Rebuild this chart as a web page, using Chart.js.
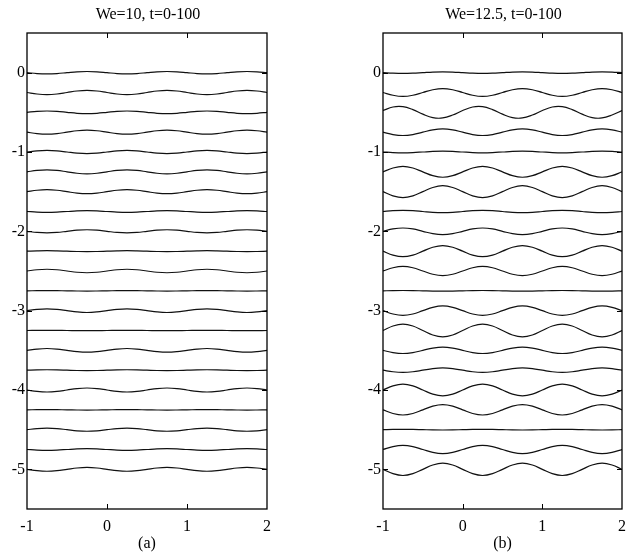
<!DOCTYPE html>
<html><head><meta charset="utf-8">
<script src="https://cdn.jsdelivr.net/npm/chart.js@4.4.1/dist/chart.umd.min.js"></script>
<style>
html,body{margin:0;padding:0;background:#fff;}
#wrap{position:relative;width:636px;height:554px;overflow:hidden;}
.panel{position:absolute;top:0;width:318px;height:554px;}
</style></head><body>
<div id="wrap">
<div class="panel" style="left:0"><canvas id="ca" width="318" height="554"></canvas></div>
<div class="panel" style="left:318px"><canvas id="cb" width="318" height="554"></canvas></div>
</div>
<script>
// ---- data ----
const titleA = "We=10, t=0-100";
const titleB = "We=12.5, t=0-100";
const labelA = "(a)";
const labelB = "(b)";
const xTicks = [-1, 0, 1, 2];
const yTicks = [-5, -4, -3, -2, -1, 0];
const xs = [-1,-0.875,-0.75,-0.625,-0.5,-0.375,-0.25,-0.125,0,0.125,0.25,0.375,0.5,0.625,0.75,0.875,1,1.125,1.25,1.375,1.5,1.625,1.75,1.875,2];
const offsets = [0,-0.25,-0.5,-0.75,-1,-1.25,-1.5,-1.75,-2,-2.25,-2.5,-2.75,-3,-3.25,-3.5,-3.75,-4,-4.25,-4.5,-4.75,-5];

// deviation of each interface profile from its offset, panel (a) We=10
const devA = [
[0,-0.011,-0.015,-0.011,0,0.011,0.015,0.011,0,-0.011,-0.015,-0.011,0,0.011,0.015,0.011,0,-0.011,-0.015,-0.011,0,0.011,0.015,0.011,0],
[0,-0.019,-0.027,-0.019,0,0.019,0.027,0.019,0,-0.019,-0.027,-0.019,0,0.019,0.027,0.019,0,-0.019,-0.027,-0.019,0,0.019,0.027,0.019,0],
[0,0.012,0.017,0.012,0,-0.012,-0.017,-0.012,0,0.012,0.017,0.012,0,-0.012,-0.017,-0.012,0,0.012,0.017,0.012,0,-0.012,-0.017,-0.012,0],
[0,-0.018,-0.025,-0.018,0,0.018,0.025,0.018,0,-0.018,-0.025,-0.018,0,0.018,0.025,0.018,0,-0.018,-0.025,-0.018,0,0.018,0.025,0.018,0],
[0,0.014,0.02,0.014,0,-0.014,-0.02,-0.014,0,0.014,0.02,0.014,0,-0.014,-0.02,-0.014,0,0.014,0.02,0.014,0,-0.014,-0.02,-0.014,0],
[0,0.018,0.025,0.018,0,-0.018,-0.025,-0.018,0,0.018,0.025,0.018,0,-0.018,-0.025,-0.018,0,0.018,0.025,0.018,0,-0.018,-0.025,-0.018,0],
[0,0.018,0.025,0.018,0,-0.018,-0.025,-0.018,0,0.018,0.025,0.018,0,-0.018,-0.025,-0.018,0,0.018,0.025,0.018,0,-0.018,-0.025,-0.018,0],
[0,-0.007,-0.01,-0.007,0,0.007,0.01,0.007,0,-0.007,-0.01,-0.007,0,0.007,0.01,0.007,0,-0.007,-0.01,-0.007,0,0.007,0.01,0.007,0],
[0,-0.014,-0.02,-0.014,0,0.014,0.02,0.014,0,-0.014,-0.02,-0.014,0,0.014,0.02,0.014,0,-0.014,-0.02,-0.014,0,0.014,0.02,0.014,0],
[0,0.004,0.006,0.004,0,-0.004,-0.006,-0.004,0,0.004,0.006,0.004,0,-0.004,-0.006,-0.004,0,0.004,0.006,0.004,0,-0.004,-0.006,-0.004,0],
[0,0.016,0.022,0.016,0,-0.016,-0.022,-0.016,0,0.016,0.022,0.016,0,-0.016,-0.022,-0.016,0,0.016,0.022,0.016,0,-0.016,-0.022,-0.016,0],
[0,0.002,0.003,0.002,0,-0.002,-0.003,-0.002,0,0.002,0.003,0.002,0,-0.002,-0.003,-0.002,0,0.002,0.003,0.002,0,-0.002,-0.003,-0.002,0],
[0,0.016,0.023,0.016,0,-0.016,-0.023,-0.016,0,0.016,0.023,0.016,0,-0.016,-0.023,-0.016,0,0.016,0.023,0.016,0,-0.016,-0.023,-0.016,0],
[0,0.001,0.002,0.001,0,-0.001,-0.002,-0.001,0,0.001,0.002,0.001,0,-0.001,-0.002,-0.001,0,0.001,0.002,0.001,0,-0.001,-0.002,-0.001,0],
[0,0.016,0.023,0.016,0,-0.016,-0.023,-0.016,0,0.016,0.023,0.016,0,-0.016,-0.023,-0.016,0,0.016,0.023,0.016,0,-0.016,-0.023,-0.016,0],
[0,0.004,0.005,0.004,0,-0.004,-0.005,-0.004,0,0.004,0.005,0.004,0,-0.004,-0.005,-0.004,0,0.004,0.005,0.004,0,-0.004,-0.005,-0.004,0],
[0,-0.018,-0.025,-0.018,0,0.018,0.025,0.018,0,-0.018,-0.025,-0.018,0,0.018,0.025,0.018,0,-0.018,-0.025,-0.018,0,0.018,0.025,0.018,0],
[0,0.002,0.003,0.002,0,-0.002,-0.003,-0.002,0,0.002,0.003,0.002,0,-0.002,-0.003,-0.002,0,0.002,0.003,0.002,0,-0.002,-0.003,-0.002,0],
[0,0.014,0.02,0.014,0,-0.014,-0.02,-0.014,0,0.014,0.02,0.014,0,-0.014,-0.02,-0.014,0,0.014,0.02,0.014,0,-0.014,-0.02,-0.014,0],
[0,-0.007,-0.01,-0.007,0,0.007,0.01,0.007,0,-0.007,-0.01,-0.007,0,0.007,0.01,0.007,0,-0.007,-0.01,-0.007,0,0.007,0.01,0.007,0],
[0,-0.017,-0.024,-0.017,0,0.017,0.024,0.017,0,-0.017,-0.024,-0.017,0,0.017,0.024,0.017,0,-0.017,-0.024,-0.017,0,0.017,0.024,0.017,0]
];

// deviation of each interface profile from its offset, panel (b) We=12.5
const devB = [
[0,-0.007,-0.01,-0.007,0,0.007,0.01,0.007,0,-0.007,-0.01,-0.007,0,0.007,0.01,0.007,0,-0.007,-0.01,-0.007,0,0.007,0.01,0.007,0],
[0,-0.035,-0.05,-0.035,0,0.035,0.05,0.035,0,-0.035,-0.05,-0.035,0,0.035,0.05,0.035,0,-0.035,-0.05,-0.035,0,0.035,0.05,0.035,0],
[0.023,0.067,0.071,0.034,-0.023,-0.067,-0.071,-0.034,0.023,0.067,0.071,0.034,-0.023,-0.067,-0.071,-0.034,0.023,0.067,0.071,0.034,-0.023,-0.067,-0.071,-0.034,0.023],
[0,-0.03,-0.042,-0.03,0,0.03,0.042,0.03,0,-0.03,-0.042,-0.03,0,0.03,0.042,0.03,0,-0.03,-0.042,-0.03,0,0.03,0.042,0.03,0],
[0,-0.007,-0.01,-0.007,0,0.007,0.01,0.007,0,-0.007,-0.01,-0.007,0,0.007,0.01,0.007,0,-0.007,-0.01,-0.007,0,0.007,0.01,0.007,0],
[0,0.048,0.068,0.048,0,-0.048,-0.068,-0.048,0,0.048,0.068,0.048,0,-0.048,-0.068,-0.048,0,0.048,0.068,0.048,0,-0.048,-0.068,-0.048,0],
[0,-0.053,-0.075,-0.053,0,0.053,0.075,0.053,0,-0.053,-0.075,-0.053,0,0.053,0.075,0.053,0,-0.053,-0.075,-0.053,0,0.053,0.075,0.053,0],
[0,0.011,0.015,0.011,0,-0.011,-0.015,-0.011,0,0.011,0.015,0.011,0,-0.011,-0.015,-0.011,0,0.011,0.015,0.011,0,-0.011,-0.015,-0.011,0],
[0,0.03,0.042,0.03,0,-0.03,-0.042,-0.03,0,0.03,0.042,0.03,0,-0.03,-0.042,-0.03,0,0.03,0.042,0.03,0,-0.03,-0.042,-0.03,0],
[0,-0.049,-0.07,-0.049,0,0.049,0.07,0.049,0,-0.049,-0.07,-0.049,0,0.049,0.07,0.049,0,-0.049,-0.07,-0.049,0,0.049,0.07,0.049,0],
[0,0.041,0.058,0.041,0,-0.041,-0.058,-0.041,0,0.041,0.058,0.041,0,-0.041,-0.058,-0.041,0,0.041,0.058,0.041,0,-0.041,-0.058,-0.041,0],
[0,0.003,0.004,0.003,0,-0.003,-0.004,-0.003,0,0.003,0.004,0.003,0,-0.003,-0.004,-0.003,0,0.003,0.004,0.003,0,-0.003,-0.004,-0.003,0],
[0,-0.042,-0.06,-0.042,0,0.042,0.06,0.042,0,-0.042,-0.06,-0.042,0,0.042,0.06,0.042,0,-0.042,-0.06,-0.042,0,0.042,0.06,0.042,0],
[0,0.057,0.08,0.057,0,-0.057,-0.08,-0.057,0,0.057,0.08,0.057,0,-0.057,-0.08,-0.057,0,0.057,0.08,0.057,0,-0.057,-0.08,-0.057,0],
[0,-0.028,-0.04,-0.028,0,0.028,0.04,0.028,0,-0.028,-0.04,-0.028,0,0.028,0.04,0.028,0,-0.028,-0.04,-0.028,0,0.028,0.04,0.028,0],
[0,-0.02,-0.028,-0.02,0,0.02,0.028,0.02,0,-0.02,-0.028,-0.02,0,0.02,0.028,0.02,0,-0.02,-0.028,-0.02,0,0.02,0.028,0.02,0],
[0,0.052,0.074,0.052,0,-0.052,-0.074,-0.052,0,0.052,0.074,0.052,0,-0.052,-0.074,-0.052,0,0.052,0.074,0.052,0,-0.052,-0.074,-0.052,0],
[0,-0.046,-0.065,-0.046,0,0.046,0.065,0.046,0,-0.046,-0.065,-0.046,0,0.046,0.065,0.046,0,-0.046,-0.065,-0.046,0,0.046,0.065,0.046,0],
[0,0.003,0.004,0.003,0,-0.003,-0.004,-0.003,0,0.003,0.004,0.003,0,-0.003,-0.004,-0.003,0,0.003,0.004,0.003,0,-0.003,-0.004,-0.003,0],
[0,0.037,0.052,0.037,0,-0.037,-0.052,-0.037,0,0.037,0.052,0.037,0,-0.037,-0.052,-0.037,0,0.037,0.052,0.037,0,-0.037,-0.052,-0.037,0],
[0,-0.055,-0.078,-0.055,0,0.055,0.078,0.055,0,-0.055,-0.078,-0.055,0,0.055,0.078,0.055,0,-0.055,-0.078,-0.055,0,0.055,0.078,0.055,0]
];

// ---- chart building ----
const FONT = "'Liberation Serif','Times New Roman',serif";

function buildDatasets(dev) {
  return dev.map((row, i) => ({
    data: row.map((d, k) => ({ x: xs[k], y: offsets[i] + d })),
    borderColor: '#111',
    borderWidth: 1.2,
    pointRadius: 0,
    tension: 0.4,
    fill: false
  }));
}

const framePlugin = {
  id: 'frame',
  afterDraw(chart, args, opts) {
    const { ctx, chartArea: a, scales } = chart;
    ctx.save();
    ctx.strokeStyle = '#000';
    ctx.lineWidth = 1.3;
    ctx.strokeRect(a.left, a.top, a.right - a.left, a.bottom - a.top);
    ctx.lineWidth = 1;
    const tl = 5;
    ctx.beginPath();
    xTicks.forEach(v => {
      const px = Math.round(scales.x.getPixelForValue(v)) + 0.5;
      if (px <= a.left + 1 || px >= a.right - 1) return;
      ctx.moveTo(px, a.bottom); ctx.lineTo(px, a.bottom - tl);
      ctx.moveTo(px, a.top); ctx.lineTo(px, a.top + tl);
    });
    yTicks.forEach(v => {
      const py = Math.round(scales.y.getPixelForValue(v)) + 0.5;
      ctx.moveTo(a.left, py); ctx.lineTo(a.left + tl, py);
      ctx.moveTo(a.right, py); ctx.lineTo(a.right - tl, py);
    });
    ctx.stroke();
    // panel title
    ctx.fillStyle = '#000';
    ctx.font = "16px " + FONT;
    ctx.textAlign = 'center';
    ctx.textBaseline = 'middle';
    ctx.fillText(opts.text, (a.left + a.right) / 2 + 1, 15);
    ctx.restore();
  }
};

function makeChart(id, dev, title, label, padL, padR) {
  return new Chart(document.getElementById(id), {
    type: 'line',
    data: { datasets: buildDatasets(dev) },
    plugins: [framePlugin],
    options: {
      responsive: false,
      animation: false,
      events: [],
      layout: { padding: { left: padL, right: padR, top: 33, bottom: 0 } },
      plugins: { legend: { display: false }, tooltip: { enabled: false }, title: { display: false }, frame: { text: title } },
      scales: {
        x: {
          type: 'linear', min: -1, max: 2,
          afterBuildTicks: s => { s.ticks = xTicks.map(v => ({ value: v })); },
          afterFit: s => { s.height = 45; },
          grid: { display: false, drawTicks: false },
          border: { display: false },
          ticks: { color: '#000', font: { family: FONT, size: 16 }, padding: 8, maxRotation: 0, autoSkip: false },
          title: { display: true, text: label, color: '#000', font: { family: FONT, size: 16 }, padding: { top: 0, bottom: 1 } }
        },
        y: {
          type: 'linear', min: -5.5, max: 0.5,
          afterBuildTicks: s => { s.ticks = yTicks.map(v => ({ value: v })); },
          afterFit: s => { s.width = 27; },
          grid: { display: false, drawTicks: false },
          border: { display: false },
          ticks: { color: '#000', font: { family: FONT, size: 16 }, padding: 2, autoSkip: false }
        }
      }
    }
  });
}

makeChart('ca', devA, titleA, labelA, 0, 51);
makeChart('cb', devB, titleB, labelB, 38, 14);
</script>
</body></html>
